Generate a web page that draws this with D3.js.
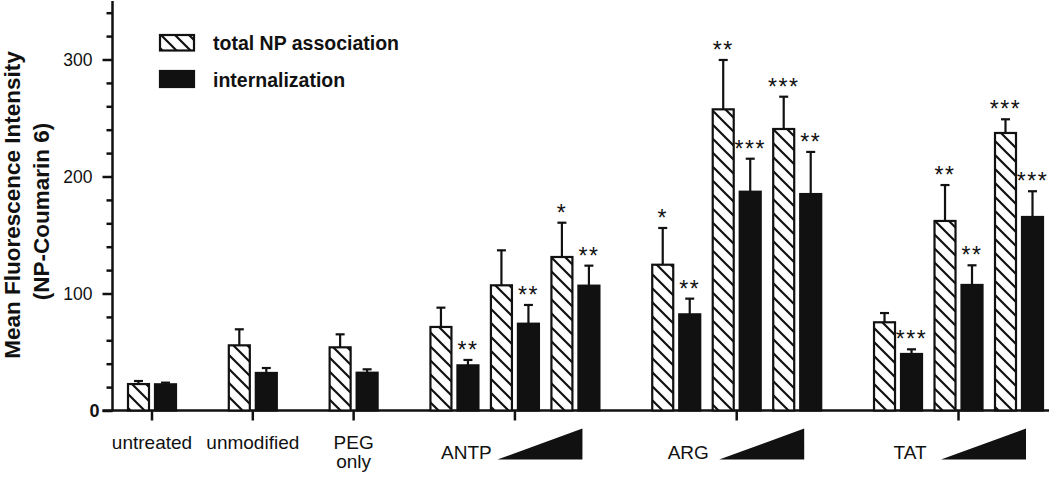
<!DOCTYPE html>
<html>
<head>
<meta charset="utf-8">
<script src="https://cdn.jsdelivr.net/npm/d3@7"></script>
<style>
  html, body { margin: 0; padding: 0; background: #fff; }
  svg { display: block; font-family: "Liberation Sans", Arial, sans-serif; }
</style>
</head>
<body>
<svg id="chart" width="1050" height="477"></svg>
<script>
// ---------------- data ----------------
const groupLabels = ["untreated", "unmodified", "PEG\nonly", "ANTP", "ARG", "TAT"];
const groupSizes  = [1, 1, 1, 3, 3, 3];
const categories  = ["untreated", "unmodified", "PEG only",
                     "ANTP low", "ANTP mid", "ANTP high",
                     "ARG low", "ARG mid", "ARG high",
                     "TAT low", "TAT mid", "TAT high"];
const totalNP       = [22.6, 55.7, 54.0, 71.4, 107.0, 131.2, 124.6, 257.4, 240.6, 75.4, 162.0, 237.2];
const totalNPErr    = [2.6, 13.7, 11.1, 16.5, 29.9, 29.3, 31.4, 42.2, 27.6, 7.9, 30.7, 11.7];
const internal      = [22.4, 32.1, 32.3, 38.6, 74.2, 106.7, 82.2, 187.0, 185.0, 48.3, 107.3, 165.4];
const internalErr   = [1.4, 4.2, 2.9, 4.6, 16.0, 17.1, 13.4, 28.2, 36.0, 4.0, 16.8, 22.0];
const totalStars    = ["", "", "", "", "", "*", "*", "**", "***", "", "**", "***"];
const internalStars = ["", "", "", "**", "**", "**", "**", "***", "**", "***", "**", "***"];
const majorTicks = [0, 100, 200, 300];
const minorTicks = [20, 40, 60, 80, 120, 140, 160, 180, 220, 240, 260, 280, 320, 340];
const seriesNames = ["total NP association", "internalization"];
const yTitle = ["Mean Fluorescence Intensity", "(NP-Coumarin 6)"];

// slot index per category (singles 5 apart, grouped items 3 apart)
const slots = [];
const groupFirst = [], groupLast = [];
{
  let s = -5;
  groupSizes.forEach((n, g) => {
    for (let i = 0; i < n; i++) {
      s += (i === 0) ? 5 : 3;
      if (i === 0) groupFirst.push(s);
      slots.push(s);
    }
    groupLast.push(s);
  });
}
const groupCenter = groupFirst.map((f, i) => (f + groupLast[i]) / 2);

// ---------------- scales ----------------
const svg = d3.select("#chart");
svg.append("rect").attr("width", 1050).attr("height", 477).attr("fill", "#fff");

const x = d3.scaleLinear().domain([0, d3.max(slots)]).range([152, 1019]);
const y = d3.scaleLinear().domain([0, 350]).range([410.5, 1]);
const axisX = 112.5;

// hatch pattern
const defs = svg.append("defs");
const pat = defs.append("pattern").attr("id", "hatch")
  .attr("patternUnits", "userSpaceOnUse").attr("width", 14).attr("height", 14);
pat.append("rect").attr("width", 14).attr("height", 14).attr("fill", "#fff");
pat.append("path")
  .attr("d", "M0,0 L14,14 M-3.5,10.5 L3.5,17.5 M10.5,-3.5 L17.5,3.5")
  .attr("stroke", "#111").attr("stroke-width", 2.2).attr("fill", "none");

// ---------------- axes ----------------
const gMinor = svg.append("g").attr("transform", `translate(${axisX},0)`)
  .call(d3.axisLeft(y).tickValues(minorTicks).tickSize(6).tickFormat(""));
const gMajor = svg.append("g").attr("transform", `translate(${axisX},0)`)
  .call(d3.axisLeft(y).tickValues(majorTicks).tickSize(10).tickPadding(10).tickFormat(d3.format("d")));
[gMinor, gMajor].forEach(g => {
  g.select(".domain").remove();
  g.selectAll(".tick line").attr("stroke", "#111").attr("stroke-width", 2.5);
});
gMajor.selectAll(".tick text")
  .attr("font-size", 17.5).attr("fill", "#111")
  .attr("font-family", "'Liberation Sans', Arial, sans-serif")
  .filter(d => d === 0)
  .attr("font-weight", "bold").attr("font-size", 18).attr("x", -13);

// y axis line
svg.append("line").attr("x1", axisX).attr("x2", axisX)
  .attr("y1", y(350)).attr("y2", y(0) + 1)
  .attr("stroke", "#111").attr("stroke-width", 2.5);
// x axis line
svg.append("line").attr("x1", axisX - 10).attr("x2", 1049)
  .attr("y1", y(0)).attr("y2", y(0))
  .attr("stroke", "#111").attr("stroke-width", 2.5);
// category ticks
svg.append("g").selectAll("line").data(groupCenter).join("line")
  .attr("x1", d => x(d)).attr("x2", d => x(d))
  .attr("y1", y(0)).attr("y2", y(0) + 10)
  .attr("stroke", "#111").attr("stroke-width", 2.5);

// ---------------- bars ----------------
const barW = 21, gapIn = 3;
const items = categories.map((c, i) => ({ c, i, s: slots[i] }));
const gBars = svg.append("g");

function drawSeries(vals, errs, stars, side, fill) {
  const xl = d => side < 0 ? x(d.s) - gapIn - barW : x(d.s) + gapIn;
  const cx = d => xl(d) + barW / 2;
  gBars.append("g").selectAll("rect").data(items).join("rect")
    .attr("x", xl).attr("width", barW)
    .attr("y", d => y(vals[d.i]))
    .attr("height", d => y(0) - y(vals[d.i]))
    .attr("fill", fill).attr("stroke", "#111").attr("stroke-width", 2.2);
  const ge = gBars.append("g").attr("stroke", "#111").attr("stroke-width", 2.2);
  ge.selectAll("line.v").data(items).join("line").attr("class", "v")
    .attr("x1", cx).attr("x2", cx)
    .attr("y1", d => y(vals[d.i])).attr("y2", d => y(vals[d.i] + errs[d.i]));
  ge.selectAll("line.c").data(items).join("line").attr("class", "c")
    .attr("x1", d => cx(d) - 4.5).attr("x2", d => cx(d) + 4.5)
    .attr("y1", d => y(vals[d.i] + errs[d.i])).attr("y2", d => y(vals[d.i] + errs[d.i]));
  gBars.append("g").selectAll("text").data(items.filter(d => stars[d.i])).join("text")
    .attr("x", cx).attr("y", d => y(vals[d.i] + errs[d.i]) - 2)
    .attr("text-anchor", "middle").attr("font-size", 23)
    .attr("letter-spacing", 1.5).attr("fill", "#111")
    .text(d => stars[d.i]);
}
drawSeries(totalNP, totalNPErr, totalStars, -1, "url(#hatch)");
drawSeries(internal, internalErr, internalStars, 1, "#111");

// ---------------- category labels ----------------
const gLab = svg.append("g").attr("fill", "#111").attr("font-size", 19);
groupLabels.forEach((lab, g) => {
  if (groupSizes[g] === 1) {
    lab.split("\n").forEach((ln, k) => {
      gLab.append("text").attr("x", x(groupCenter[g])).attr("y", 449 + k * 19)
        .attr("text-anchor", "middle").text(ln);
    });
  } else {
    gLab.append("text").attr("x", x(groupFirst[g]) + 12).attr("y", 459)
      .attr("text-anchor", "middle").text(lab);
    const xr = x(groupLast[g]) + 7;
    gLab.append("path")
      .attr("d", `M${xr - 85},459.5 L${xr},428.5 L${xr},459.5 Z`)
      .attr("fill", "#111");
  }
});

// ---------------- legend ----------------
const gLeg = svg.append("g");
gLeg.append("rect").attr("x", 160).attr("y", 35).attr("width", 34).attr("height", 15.5)
  .attr("fill", "url(#hatch)").attr("stroke", "#111").attr("stroke-width", 2.2);
gLeg.append("rect").attr("x", 160).attr("y", 71).attr("width", 34).attr("height", 16)
  .attr("fill", "#111").attr("stroke", "#111").attr("stroke-width", 2.2);
gLeg.selectAll("text").data(seriesNames).join("text")
  .attr("x", 213).attr("y", (d, i) => i === 0 ? 50 : 87)
  .attr("font-size", 19.5).attr("font-weight", "bold").attr("fill", "#111")
  .text(d => d);

// ---------------- y title ----------------
svg.append("text").attr("transform", "translate(20,205) rotate(-90)")
  .attr("text-anchor", "middle").attr("font-size", 22.5).attr("font-weight", "bold")
  .attr("fill", "#111").text(yTitle[0]);
svg.append("text").attr("transform", "translate(48.5,211.5) rotate(-90)")
  .attr("text-anchor", "middle").attr("font-size", 22.5).attr("font-weight", "bold")
  .attr("fill", "#111").text(yTitle[1]);
</script>
</body>
</html>
